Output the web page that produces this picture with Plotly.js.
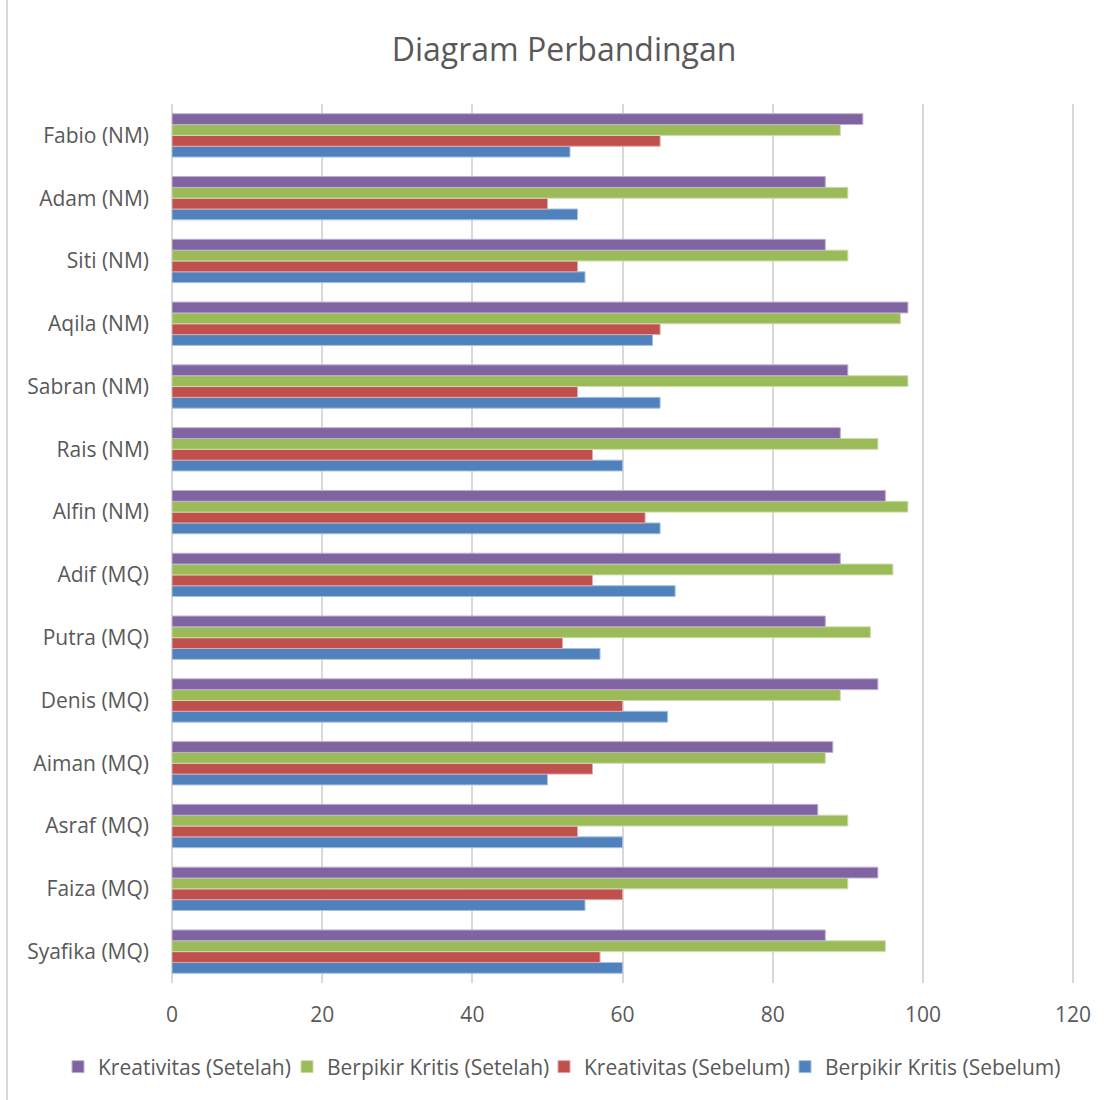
<!DOCTYPE html>
<html>
<head>
<meta charset="utf-8">
<script src="https://cdn.plot.ly/plotly-3.0.1.min.js"></script>
<style>
  html, body { margin: 0; padding: 0; background: #ffffff; }
  #wrap { position: relative; width: 1117px; height: 1100px; }
  #edge { position: absolute; left: 6px; top: 0; width: 2px; height: 1100px; background: #d9d9d9; }
  #chart { position: absolute; left: 0; top: 0; width: 1117px; height: 1100px; }
</style>
</head>
<body>
<div id="wrap"><div id="chart"></div><div id="edge"></div></div>
<script>
// Categories listed top to bottom as in the chart
const categories = ["Fabio (NM)", "Adam (NM)", "Siti (NM)", "Aqila (NM)", "Sabran (NM)", "Rais (NM)",
  "Alfin (NM)", "Adif (MQ)", "Putra (MQ)", "Denis (MQ)", "Aiman (MQ)", "Asraf (MQ)", "Faiza (MQ)", "Syafika (MQ)"];

const kreativitasSetelah    = [92, 87, 87, 98, 90, 89, 95, 89, 87, 94, 88, 86, 94, 87];
const berpikirKritisSetelah = [89, 90, 90, 97, 98, 94, 98, 96, 93, 89, 87, 90, 90, 95];
const kreativitasSebelum    = [65, 50, 54, 65, 54, 56, 63, 56, 52, 60, 56, 54, 60, 57];
const berpikirKritisSebelum = [53, 54, 55, 64, 65, 60, 65, 67, 57, 66, 50, 60, 55, 60];

const seriesNames = ["Berpikir Kritis (Sebelum)", "Kreativitas (Sebelum)", "Berpikir Kritis (Setelah)", "Kreativitas (Setelah)"];
const seriesValues = [berpikirKritisSebelum, kreativitasSebelum, berpikirKritisSetelah, kreativitasSetelah];
const seriesColors = ["#4f81bd", "#c0504d", "#9bbb59", "#8064a2"];
const seriesLines  = ["#a7c0de", "#e0a8a6", "#cddcac", "#bfb1d0"];
// one legend box per series, left edge in container pixels
const legendIds  = ["legend4", "legend3", "legend2", "legend"];
const legendLeft = [785, 544, 287, 58];

const xTicks = [0, 20, 40, 60, 80, 100, 120];

const FONT = "'Open Sans', 'Noto Sans', sans-serif";
const TXT = "#595959";
const W = 1117, H = 1100;

const traces = seriesNames.map((name, i) => ({
  type: "bar",
  orientation: "h",
  name: name,
  y: categories,
  x: seriesValues[i],
  legend: legendIds[i],
  marker: { color: seriesColors[i], line: { color: seriesLines[i], width: 1 } },
  hoverinfo: "x+name"
}));

const layout = {
  width: W,
  height: H,
  paper_bgcolor: "#ffffff",
  plot_bgcolor: "#ffffff",
  font: { family: FONT, color: TXT, size: 21 },
  margin: { l: 172, r: 42, t: 104, b: 117, pad: 0 },
  title: {
    text: "Diagram Perbandingan",
    font: { family: FONT, size: 32, color: TXT },
    x: 0.505, xref: "container", xanchor: "center",
    y: 0.9545, yref: "container", yanchor: "middle"
  },
  barmode: "group",
  bargap: 0.31,
  bargroupgap: 0,
  xaxis: {
    range: [0, 120.25],
    tickvals: xTicks,
    ticktext: xTicks.map(String),
    showgrid: true,
    gridcolor: "#d9d9d9",
    gridwidth: 2,
    zeroline: true,
    zerolinecolor: "#d9d9d9",
    zerolinewidth: 2,
    showline: false,
    ticks: "",
    ticklabelstandoff: 17,
    tickfont: { family: FONT, size: 21, color: TXT },
    fixedrange: true
  },
  yaxis: {
    type: "category",
    categoryorder: "array",
    categoryarray: categories.slice().reverse(),
    showgrid: false,
    zeroline: false,
    showline: false,
    ticks: "",
    ticklabelstandoff: 22,
    tickfont: { family: FONT, size: 21, color: TXT },
    fixedrange: true
  },
  showlegend: true
};

legendIds.forEach((id, i) => {
  layout[id] = {
    orientation: "h",
    xref: "container", x: legendLeft[i] / W, xanchor: "left",
    yref: "container", y: 1 - 1067 / H, yanchor: "middle",
    font: { family: FONT, size: 21, color: TXT },
    itemwidth: 30,
    bgcolor: "rgba(0,0,0,0)"
  };
});

Plotly.newPlot("chart", traces, layout, { displayModeBar: false, staticPlot: true });
</script>
</body>
</html>
